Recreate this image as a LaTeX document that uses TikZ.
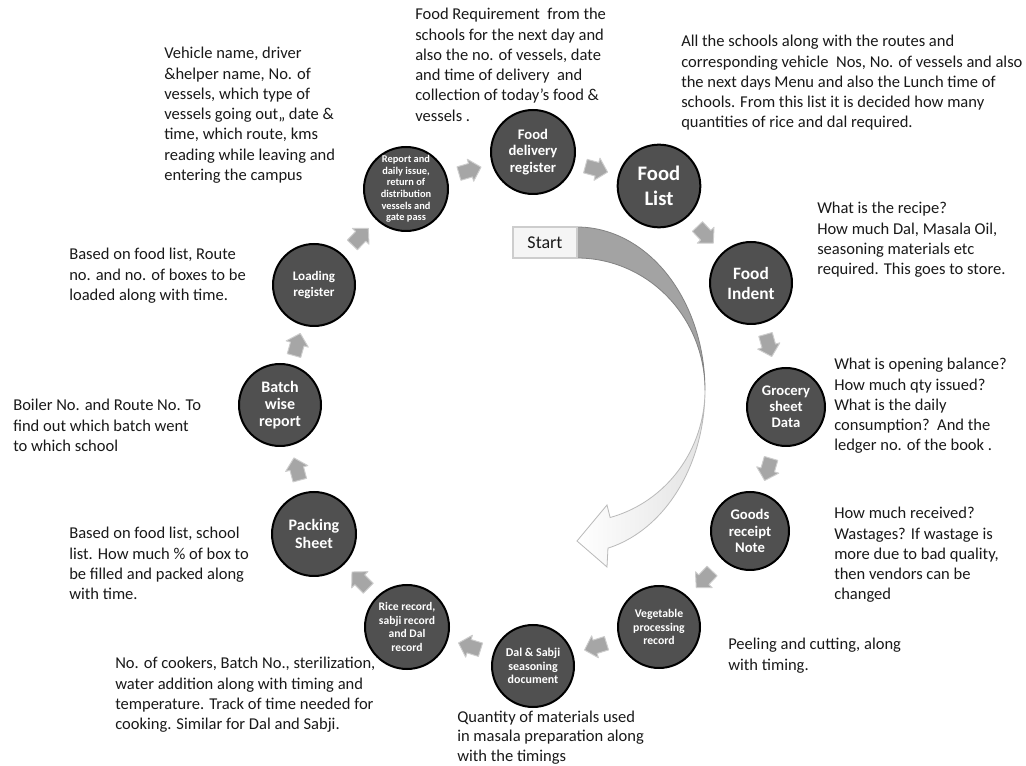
\documentclass[tikz,border=0pt]{standalone}
\usepackage{fontspec}
\setmainfont{Carlito}
\usetikzlibrary{calc}
\definecolor{circgray}{RGB}{80,80,80}
\definecolor{arrgray}{RGB}{166,166,166}
\definecolor{arrborder}{RGB}{205,205,205}
\definecolor{bandgray}{RGB}{163,163,163}
\definecolor{bandedge}{RGB}{130,130,130}
\definecolor{txt}{RGB}{25,25,25}
\definecolor{startfill}{RGB}{245,245,245}
\definecolor{startedge}{RGB}{205,205,205}
\newcommand{\fsz}[2]{\fontsize{#1}{#2}\selectfont}
\newcommand{\flowarr}[2]{\path let \p1=($(#2)-(#1)$), \n1={atan2(\y1,\x1)} in pic[rotate=\n1] at ($(#1)!0.5!(#2)$) {smallarr};}
\tikzset{
  circ/.style={circle, draw=black, line width=1.5pt, fill=circgray, text=white, align=center, inner sep=0pt},
  desc/.style={anchor=north west, align=left, inner sep=0pt, text=txt, font=\fsz{12.4}{15.2}},
  startbox/.style={draw=startedge, fill=startfill, line width=0.8pt, minimum width=48pt, minimum height=23.25pt, inner sep=0pt, font=\fsz{13.5}{15}, text=txt},
  smallarr/.pic={\draw[fill=arrgray, draw=arrborder, line width=0.7pt, line join=round]
     (-11,-7) -- (1,-7) -- (1,-11.5) -- (12,0) -- (1,11.5) -- (1,7) -- (-11,7) -- cycle;}
}
\begin{document}
\begin{tikzpicture}[x=0.75pt,y=-0.75pt]
\useasboundingbox[fill=white] (0,0) rectangle (1026,766);

% big curved arrow
\path[fill=bandgray, draw=bandedge, line width=0.6pt]
  plot[domain=90:0, samples=50] ({577+128*cos(\x)},{390-163*sin(\x)})
  -- plot[domain=0:90, samples=50] ({577+128*cos(\x)},{390-132*sin(\x)}) -- cycle;
\path[left color=white, right color=gray!22, draw=gray!55, line width=0.6pt]
  plot[domain=0:-76, samples=50] ({577+128*cos(\x)},{390-163*sin(\x)})
  -- (607,567) -- (577,541) -- (607,505)
  -- plot[domain=-75:0, samples=50] ({577+128*cos(\x)},{390-132*sin(\x)}) -- cycle;

\node[startbox] (start) at (545,242.5) {Start};

% circles
\node[circ, minimum size=63pt, font=\bfseries\fsz{7.8}{8.7}] (report) at (406,189) {Report and\\daily issue,\\return of\\distribution\\vessels and\\gate pass};
\node[circ, minimum size=63pt, font=\bfseries\fsz{11}{12.5}] (delivery) at (533,152) {Food\\delivery\\register};
\node[circ, minimum size=62pt, font=\bfseries\fsz{15.5}{18.5}] (foodlist) at (659,186) {Food\\List};
\node[circ, minimum size=61.5pt, font=\bfseries\fsz{13}{15}] (indent) at (751,283) {Food\\Indent};
\node[circ, minimum size=58.5pt, font=\bfseries\fsz{11}{12}] (grocery) at (786,407) {Grocery\\sheet\\Data};
\node[circ, minimum size=58.5pt, font=\bfseries\fsz{11}{12.5}] (goods) at (750,531) {Goods\\receipt\\Note};
\node[circ, minimum size=61.5pt, font=\bfseries\fsz{8.8}{10}] (veg) at (659,627) {Vegetable\\processing\\record};
\node[circ, minimum size=61.5pt, font=\bfseries\fsz{9}{10.2}] (dal) at (533,666) {Dal \& Sabji\\seasoning\\document};
\node[circ, minimum size=63pt, font=\bfseries\fsz{8.7}{10.4}] (rice) at (407,627) {Rice record,\\sabji record\\and Dal\\record};
\node[circ, minimum size=63pt, font=\bfseries\fsz{12}{13}] (packing) at (314,534) {Packing\\Sheet};
\node[circ, minimum size=61.5pt, font=\bfseries\fsz{12}{13}] (batch) at (280,405) {Batch\\wise\\report};
\node[circ, minimum size=61.5pt, font=\bfseries\fsz{9.8}{11.8}] (loading) at (314,285) {Loading\\register};

% small arrows
\flowarr{report}{delivery}
\flowarr{delivery}{foodlist}
\flowarr{foodlist}{indent}
\flowarr{indent}{grocery}
\flowarr{grocery}{goods}
\flowarr{goods}{veg}
\flowarr{veg}{dal}
\flowarr{dal}{rice}
\flowarr{rice}{packing}
\flowarr{packing}{batch}
\flowarr{batch}{loading}
\flowarr{loading}{report}

% descriptions
\node[desc] (d1) at (164,47) {Vehicle name, driver\\\&helper name, No. of\\vessels, which type of\\vessels going out,, date \&\\time, which route, kms\\reading while leaving and\\entering the campus};
\node[desc] (d2) at (415,8) {Food Requirement~~from the\\schools for the next day and\\also the no. of vessels, date\\and time of delivery~~and\\collection of today's food \&\\vessels .};
\node[desc] (d3) at (681,35) {All the schools along with the routes and\\corresponding vehicle~~Nos, No. of vessels and also\\the next days Menu and also the Lunch time of\\schools. From this list it is decided how many\\quantities of rice and dal required.};
\node[desc] (d4) at (817,202) {What is the recipe?\\How much Dal, Masala Oil,\\seasoning materials etc\\required. This goes to store.};
\node[desc] (d5) at (834,358) {What is opening balance?\\How much qty issued?\\What is the daily\\consumption?~~And the\\ledger no. of the book .};
\node[desc] (d6) at (834,507) {How much received?\\Wastages? If wastage is\\more due to bad quality,\\then vendors can be\\changed};
\node[desc] (d7) at (728,638) {Peeling and cutting, along\\with timing.};
\node[desc, font=\fsz{12.4}{14.4}] (d8) at (457,711) {Quantity of materials used\\in masala preparation along\\with the timings};
\node[desc] (d9) at (115,657) {No. of cookers, Batch No., sterilization,\\water addition along with timing and\\temperature. Track of time needed for\\cooking. Similar for Dal and Sabji.};
\node[desc] (d10) at (69,527) {Based on food list, school\\list. How much \% of box to\\be filled and packed along\\with time.};
\node[desc] (d11) at (13,399) {Boiler No. and Route No. To\\find out which batch went\\to which school};
\node[desc] (d12) at (69,248) {Based on food list, Route\\no. and no. of boxes to be\\loaded along with time.};
\end{tikzpicture}
\end{document}
